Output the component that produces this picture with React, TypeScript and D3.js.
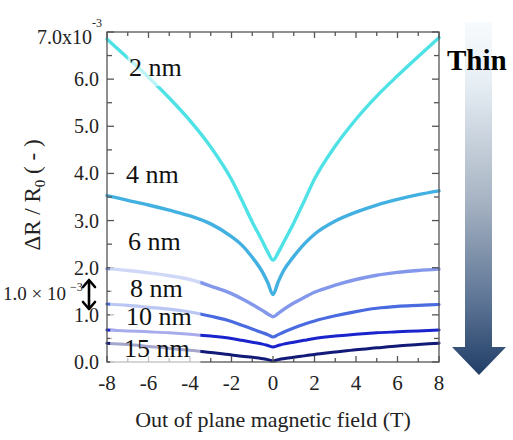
import * as d3 from "d3";

// field values (T) shared by every curve
const FIELD = [-8, -7, -6, -5, -4, -3, -2, -1.5, -1, -0.5, -0.25, 0, 0.25, 0.5, 1, 1.5, 2, 3, 4, 5, 6, 7, 8];

// ΔR/R0 in units of 1e-3
const NM2 = [6.85, 6.45, 6.04, 5.6, 5.12, 4.56, 3.87, 3.43, 2.97, 2.55, 2.33, 2.16, 2.32, 2.53, 2.95, 3.41, 3.88, 4.58, 5.15, 5.64, 6.07, 6.48, 6.88];
const NM4 = [3.53, 3.43, 3.33, 3.22, 3.1, 2.93, 2.66, 2.48, 2.22, 1.9, 1.68, 1.43, 1.7, 1.93, 2.24, 2.5, 2.71, 2.99, 3.18, 3.33, 3.45, 3.55, 3.63];
const NM6 = [1.98, 1.94, 1.89, 1.83, 1.75, 1.61, 1.45, 1.34, 1.22, 1.09, 1.02, 0.96, 1.03, 1.11, 1.25, 1.37, 1.48, 1.63, 1.75, 1.84, 1.9, 1.94, 1.97];
const NM8 = [1.23, 1.2, 1.16, 1.12, 1.06, 0.97, 0.86, 0.78, 0.7, 0.62, 0.58, 0.53, 0.58, 0.63, 0.72, 0.8, 0.87, 0.98, 1.07, 1.14, 1.18, 1.2, 1.22];
const NM10 = [0.68, 0.66, 0.64, 0.62, 0.59, 0.55, 0.5, 0.46, 0.42, 0.38, 0.35, 0.32, 0.35, 0.38, 0.42, 0.46, 0.5, 0.55, 0.59, 0.62, 0.64, 0.66, 0.68];
const NM15 = [0.4, 0.37, 0.33, 0.29, 0.25, 0.2, 0.15, 0.12, 0.1, 0.07, 0.05, 0.02, 0.05, 0.07, 0.1, 0.13, 0.16, 0.21, 0.26, 0.3, 0.34, 0.37, 0.4];

const SERIES = [
  { name: "15 nm", values: NM15, color: "#121a78", width: 3 },
  { name: "10 nm", values: NM10, color: "#1a24cc", width: 3 },
  { name: "8 nm", values: NM8, color: "#4a6be0", width: 3.2 },
  { name: "6 nm", values: NM6, color: "#8398ea", width: 3.4 },
  { name: "4 nm", values: NM4, color: "#42b0e0", width: 3.4 },
  { name: "2 nm", values: NM2, color: "#4ee2e6", width: 3.4 },
];

const X_TICKS = [-8, -6, -4, -2, 0, 2, 4, 6, 8];
const Y_TICKS = ["0.0", "1.0", "2.0", "3.0", "4.0", "5.0", "6.0"];

const SERIF = "'Liberation Serif', 'Times New Roman', serif";

export default function App() {
  const left = 107, right = 439, top = 32, bottom = 362;
  const x = d3.scaleLinear().domain([-8, 8]).range([left, right]);
  const y = d3.scaleLinear().domain([0, 7]).range([bottom, top]);

  const line = d3
    .line<number>()
    .x((_, i) => x(FIELD[i]))
    .y((d) => y(d))
    .curve(d3.curveMonotoneX);

  const xMinor = d3.range(-8, 9, 1);
  const yMinor = d3.range(0, 7.01, 0.5);

  // semi-transparent boxes behind the thickness labels
  const boxes = [
    { x0: -7.0, x1: -4.2, y0: 5.85, y1: 6.85 },
    { x0: -7.85, x1: -3.5, y0: 1.3, y1: 2.1 },
    { x0: -7.85, x1: -3.5, y0: 0.72, y1: 1.3 },
    { x0: -7.85, x1: -3.5, y0: -0.1, y1: 0.7 },
  ];

  const labels = [
    { text: "2 nm", x: 129, y: 76 },
    { text: "4 nm", x: 126, y: 183 },
    { text: "6 nm", x: 128, y: 250 },
    { text: "8 nm", x: 130, y: 297 },
    { text: "10 nm", x: 126, y: 325 },
    { text: "15 nm", x: 124, y: 357 },
  ];

  return (
    <svg
      width={513}
      height={440}
      style={{ position: "absolute", left: 0, top: 0, background: "#fff" }}
      fontFamily={SERIF}
    >
      <defs>
        <linearGradient id="thin" gradientUnits="userSpaceOnUse" x1="0" y1="20" x2="0" y2="376">
          <stop offset="0" stopColor="#f8fbfd" />
          <stop offset="0.18" stopColor="#e6eef4" />
          <stop offset="0.5" stopColor="#a9b5c4" />
          <stop offset="0.8" stopColor="#5a7293" />
          <stop offset="1" stopColor="#203d66" />
        </linearGradient>
      </defs>

      {/* curves */}
      {SERIES.map((s) => (
        <path
          key={s.name}
          d={line(s.values) ?? ""}
          fill="none"
          stroke={s.color}
          strokeWidth={s.width}
          strokeLinecap="round"
          strokeLinejoin="round"
        />
      ))}

      {/* frame and ticks */}
      <g stroke="#555" strokeWidth={1.3}>
        {xMinor.map((v) => {
          const len = v % 2 === 0 ? 6 : 4;
          return (
            <g key={"x" + v}>
              <line x1={x(v)} x2={x(v)} y1={bottom} y2={bottom - len} />
              <line x1={x(v)} x2={x(v)} y1={top} y2={top + len} />
            </g>
          );
        })}
        {yMinor.map((v) => {
          const len = Math.abs(v - Math.round(v)) < 0.01 ? 7 : 5;
          return (
            <g key={"y" + v}>
              <line x1={left} x2={left + len} y1={y(v)} y2={y(v)} />
              <line x1={right} x2={right - len} y1={y(v)} y2={y(v)} />
            </g>
          );
        })}
        <rect x={left} y={top} width={right - left} height={bottom - top} fill="none" />
      </g>

      {/* faded boxes */}
      {boxes.map((b, i) => (
        <rect
          key={i}
          x={x(b.x0)}
          y={y(b.y1)}
          width={x(b.x1) - x(b.x0)}
          height={y(b.y0) - y(b.y1)}
          fill="#fff"
          opacity={0.62}
        />
      ))}

      {labels.map((l) => (
        <text key={l.text} x={l.x} y={l.y} fontSize={26} fill="#111">
          {l.text}
        </text>
      ))}

      {/* y tick labels */}
      {Y_TICKS.map((t) => (
        <text key={t} x={99} y={y(+t) + 7} textAnchor="end" fontSize={20} fill="#222">
          {t}
        </text>
      ))}
      <text x={92} y={44} textAnchor="end" fontSize={20} fill="#222">
        7.0x10
      </text>
      <text x={92} y={27} fontSize={12} fill="#222">
        -3
      </text>

      {/* x tick labels */}
      {X_TICKS.map((t) => (
        <text key={t} x={x(t)} y={390} textAnchor="middle" fontSize={21} fill="#222">
          {t}
        </text>
      ))}

      <text x={(left + right) / 2} y={427} textAnchor="middle" fontSize={22} fill="#222">
        Out of plane magnetic field (T)
      </text>

      <text transform="translate(40,195) rotate(-90)" textAnchor="middle" fontSize={23} fill="#222">
        ΔR / R<tspan fontSize={15} dy={5}>0</tspan>
        <tspan dy={-5}> ( - )</tspan>
      </text>

      {/* scale annotation */}
      <text x={3} y={300} fontSize={19} fill="#222">
        1.0 × 10
      </text>
      <text x={70} y={291} fontSize={12} fill="#222">
        −3
      </text>
      <g stroke="#000" strokeWidth={2.6} fill="none" strokeLinecap="round" strokeLinejoin="round">
        <line x1={89} x2={89} y1={281} y2={308} />
        <polyline points="83,287 89,280 95,287" />
        <polyline points="83,302 89,309 95,302" />
      </g>

      {/* gradient arrow */}
      <path
        d="M465,22 L492,22 L492,347 L506,347 L479,375 L452,347 L465,347 Z"
        fill="url(#thin)"
      />
      <text x={447} y={70} fontSize={29} fontWeight="bold" fill="#000">
        Thin
      </text>
    </svg>
  );
}
